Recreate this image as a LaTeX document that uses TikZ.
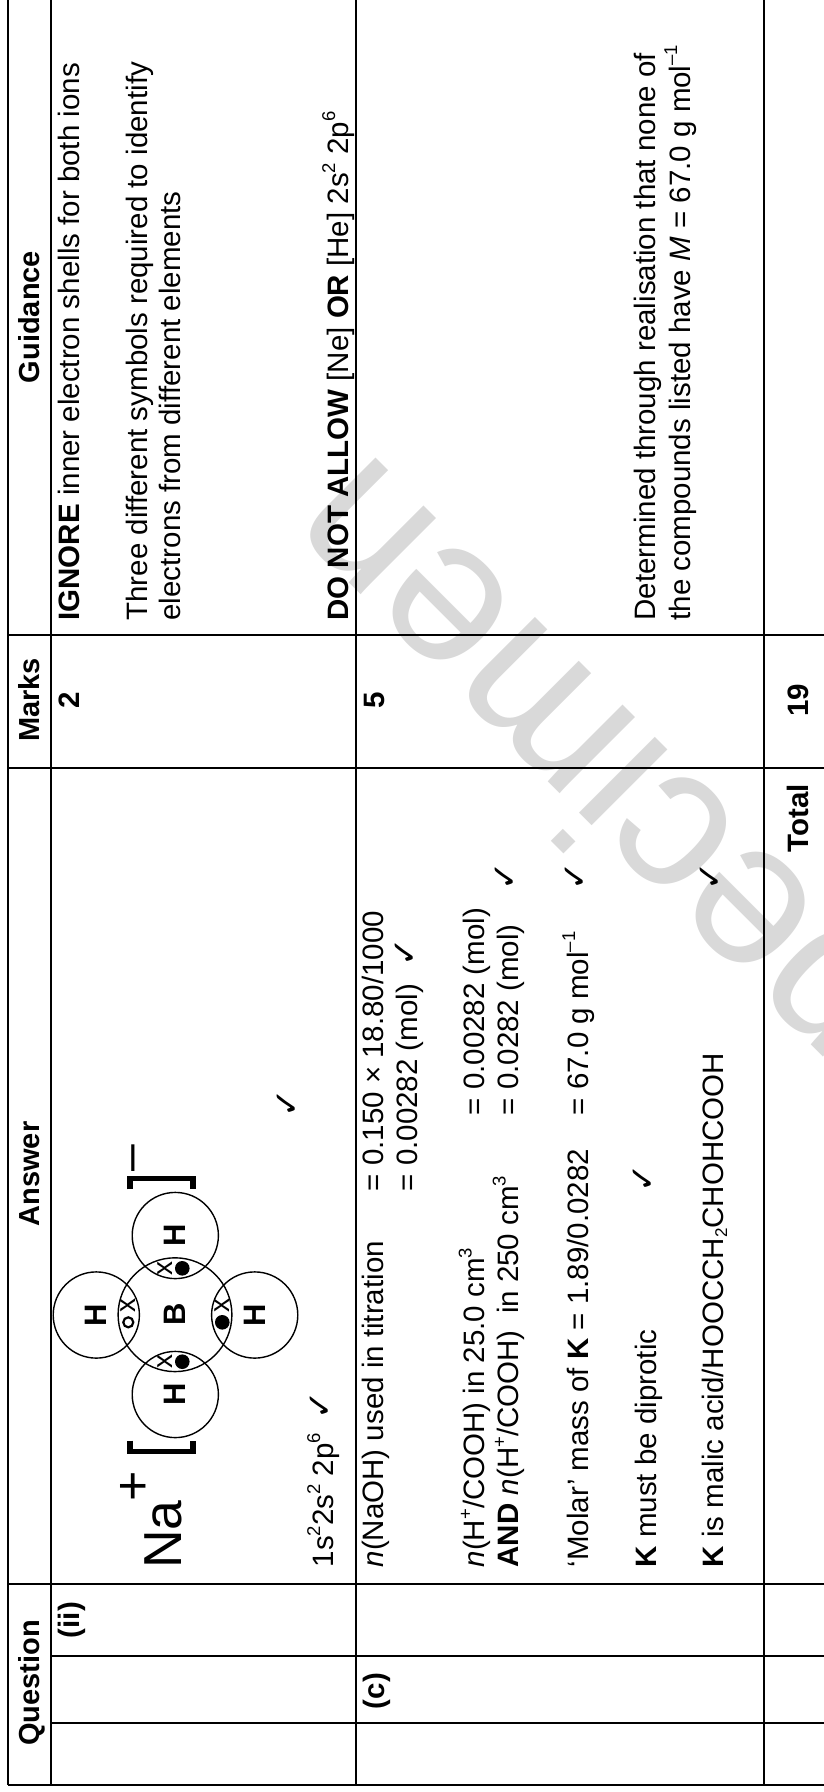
\documentclass[tikz,border=0pt]{standalone}
\usepackage{fontspec}
\setmainfont{Liberation Sans}
\newfontfamily\tickfont{DejaVu Sans}
\newcommand{\bodysize}{\fontsize{29.5}{34}\selectfont}
\newcommand{\sups}[1]{\raisebox{13pt}{\fontsize{18.5}{18.5}\selectfont #1}}
\newcommand{\subs}[1]{\raisebox{-4pt}{\fontsize{17}{17}\selectfont #1}}

\begin{document}
\begin{tikzpicture}[
        x=1pt, y=-1pt,
        rule/.style={draw, line width=1.8pt},
        txt/.style={rotate=90, anchor=base west, inner sep=0pt, font=\bodysize},
        head/.style={rotate=90, anchor=base, inner sep=0pt, font=\fontsize{29}{34}\selectfont\bfseries},
        markbold/.style={rotate=90, anchor=base, inner sep=0pt, font=\bodysize\bfseries},
        atomH/.style={circle, draw, line width=1.4pt, minimum size=86.2pt, inner sep=0pt, rotate=90, font=\fontsize{31}{31}\selectfont\bfseries},
        atomB/.style={circle, draw, line width=1.4pt, minimum size=113.8pt, inner sep=0pt, rotate=90, font=\fontsize{31}{31}\selectfont\bfseries},
        crossE/.style={rotate=90, inner sep=0pt, font=\fontsize{28}{28}\selectfont},
        dotE/.style={circle, fill=black, minimum size=14.6pt, inner sep=0pt},
        ringE/.style={circle, draw, line width=2.2pt, minimum size=10pt, inner sep=0pt},
        tickE/.style={rotate=90, inner sep=0pt, font=\fontsize{34}{34}\selectfont\tickfont},
        brace/.style={line width=5.5pt}
    ]
    \useasboundingbox (0,0) rectangle (824,1792);
    \clip (0,0) rectangle (824,1792);

    % watermark
    \node[rotate=135, anchor=base east, inner sep=0pt, text=black!15, font=\fontsize{203}{203}\selectfont] (stamp) at (366,448) {Specimen};

    % table rules
    \foreach \x in {8,51,356,764}
        \draw[rule] (\x,0) -- (\x,1785);
    \foreach \y in {635,768,1584,1785}
        \draw[rule] (8,\y) -- (824,\y);
    \foreach \y in {1656,1723}
        \draw[rule] (51,\y) -- (824,\y);

    % header row
    \foreach \y/\word in {317/Guidance,700/Marks,1174/Answer,1683/Question}
        \node[head] (head\word) at (39,\y) {\word};

    % question column
    \node[markbold] (partii) at (79,1620) {(ii)};
    \node[markbold] (partc) at (384,1691) {(c)};

    % marks column
    \node[markbold] (marktwo) at (79,700) {2};
    \node[markbold] (markfive) at (384,700) {5};
    \node[markbold] (marktotal) at (808,700) {19};
    \node[markbold] (total) at (808,818) {Total};

    % guidance column
    \node[txt] (ignore) at (79,620.7) {\textbf{IGNORE} inner electron shells for both ions};
    \node[txt] (three) at (147,620.7) {Three different symbols required to identify};
    \node[txt] (elec) at (180,620.7) {electrons from different elements};
    \node[txt] (donot) at (348,620.7) {\textbf{DO NOT ALLOW} [Ne] \textbf{OR} [He] 2s\sups{2} 2p\sups{6}};
    \node[txt] (determ) at (655,620.7) {Determined through realisation that none of};
    \node[txt] (comps) at (690,620.7) {the compounds listed have \textit{M} = 67.0 g mol\sups{–1}};

    % dot and cross diagram
    \node[txt, font=\fontsize{53.5}{54}\selectfont] (sodium) at (181.7,1569) {Na};
    \node[rotate=90, anchor=base, inner sep=0pt, font=\fontsize{52}{52}\selectfont] (plus) at (150,1486.7) {+};
    \draw[brace] (130,1440.7) -- (130,1451.5) -- (193.2,1451.5) -- (193.2,1440.7);
    \draw[brace] (130,1189.3) -- (130,1178.5) -- (193.2,1178.5) -- (193.2,1189.3);
    \node[rotate=90, anchor=base, inner sep=0pt, font=\fontsize{48}{48}\selectfont] (minus) at (145,1157.7) {–};
    \node[atomB] (boron) at (175,1314.7) {B};
    \foreach \x/\y/\n in {175.3/1235.5/top,175.3/1394.5/bot,96.3/1315/left,254.7/1315/right}
        \node[atomH] (h\n) at (\x,\y) {H};
    \foreach \x/\y/\n in {165/1268.3/top,165/1361.7/bot,128.3/1305.7/left,222.3/1305.7/right}
        \node[crossE] (cross\n) at (\x,\y) {x};
    \foreach \x/\y/\n in {182.3/1268.3/top,182.3/1361.7/bot,222.3/1322.3/right}
        \node[dotE] (dot\n) at (\x,\y) {};
    \node[ringE] (ringleft) at (128.3,1322.3) {};

    % answer lines
    \node[txt] (config) at (333,1567.5) {1s\sups{2}2s\sups{2} 2p\sups{6}};
    \node[txt] (titr) at (383.5,1567.5) {\textit{n}(NaOH) used in titration};
    \node[txt] (titra) at (383.5,1191.5) {= 0.150 × 18.80/1000};
    \node[txt] (titrb) at (417.5,1191.5) {= 0.00282 (mol)};
    \node[txt] (acid) at (484.5,1567.5) {\textit{n}(H\sups{+}/COOH) in 25.0 cm\sups{3}};
    \node[txt] (acidb) at (518.5,1567.5) {\textbf{AND} \textit{n}(H\sups{+}/COOH)\ \ in 250 cm\sups{3}};
    \node[txt] (acida) at (484.5,1115.5) {= 0.00282 (mol)};
    \node[txt] (acidc) at (518.5,1115.5) {= 0.0282 (mol)};
    \node[txt] (molar) at (588,1567.5) {‘Molar’ mass of \textbf{K} = 1.89/0.0282};
    \node[txt] (molara) at (588,1115.5) {= 67.0 g mol\sups{–1}};
    \node[txt] (dipro) at (656,1567.5) {\textbf{K} must be diprotic};
    \node[txt] (malic) at (723,1567.5) {\textbf{K} is malic acid/HOOCCH\subs{2}CHOHCOOH};

    % ticks
    \foreach \x/\y/\n in {321/1405/a,288/1103/b,406/952/c,506/876/d,576/876/e,644/1178/f,711/876/g}
        \node[tickE] (tick\n) at (\x,\y) {✓};
\end{tikzpicture}
\end{document}
